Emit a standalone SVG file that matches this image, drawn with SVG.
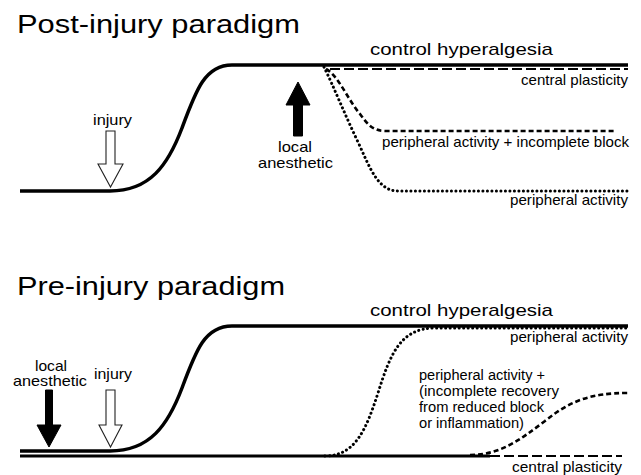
<svg xmlns="http://www.w3.org/2000/svg" width="641" height="475" viewBox="0 0 641 475">
<style>
text{font-family:"Liberation Sans",Arial,sans-serif;fill:#000}
.title{font-size:26px}
.big{font-size:17px}
.lbl{font-size:15px}
.ml{font-size:14px}
.arr{font-size:14.5px}
.solid{fill:none;stroke:#000;stroke-width:3.5}
.cp{fill:none;stroke:#000;stroke-width:2.2;stroke-dasharray:10 4}
.dash{fill:none;stroke:#000;stroke-width:2.6;stroke-dasharray:5 3}
.dot{fill:none;stroke:#000;stroke-width:3;stroke-dasharray:0.1 4.4;stroke-linecap:round}
.black{fill:#000;stroke:#000;stroke-width:1}
.white{fill:#fff;stroke:#222;stroke-width:1.1}
</style>
<rect width="641" height="475" fill="#fff"/>

<g id="post-injury">
  <text class="title" x="17" y="33" textLength="283" lengthAdjust="spacingAndGlyphs">Post-injury paradigm</text>
  <g id="post-connectors">
    <path id="post-control" class="solid" d="M20,191 H110 C150,191 168,165 182,128 C196,90 205,65 232,65 H628"/>
    <path id="post-central" class="cp" d="M330,69 H628"/>
    <path id="post-incomplete" class="dash" d="M326,69 C338,75 348,100 360,114 C368,125 373,131 386,131 H615"/>
    <path id="post-peripheral" class="dot" d="M324,67 C333,85 345,115 358,142 C370,168 378,191 398,191 H628"/>
  </g>
  <g id="post-injury-arrow">
    <polygon class="white" points="106,131 115,131 115,164 123,164 110.5,187 98,164 106,164"/>
    <text class="arr" x="93" y="125" textLength="39" lengthAdjust="spacingAndGlyphs">injury</text>
  </g>
  <g id="post-anesthetic-arrow">
    <polygon class="black" points="298,82 310,105 302.5,105 302.5,136 293.5,136 293.5,105 286,105"/>
    <text class="arr" x="278" y="152" textLength="34" lengthAdjust="spacingAndGlyphs">local</text>
    <text class="arr" x="258" y="168" textLength="75" lengthAdjust="spacingAndGlyphs">anesthetic</text>
  </g>
  <g id="post-labels">
    <text class="big" x="370" y="55" textLength="183" lengthAdjust="spacingAndGlyphs">control hyperalgesia</text>
    <text class="lbl" x="521" y="85" textLength="107" lengthAdjust="spacingAndGlyphs">central plasticity</text>
    <text class="lbl" x="382" y="147" textLength="247" lengthAdjust="spacingAndGlyphs">peripheral activity + incomplete block</text>
    <text class="lbl" x="510" y="205" textLength="118" lengthAdjust="spacingAndGlyphs">peripheral activity</text>
  </g>
</g>

<g id="pre-injury">
  <text class="title" x="17" y="295" textLength="268" lengthAdjust="spacingAndGlyphs">Pre-injury paradigm</text>
  <g id="pre-connectors">
    <path id="pre-control" class="solid" d="M20,451 H110 C150,451 168,425 182,388 C196,350 205,326 232,326 H628"/>
    <path id="pre-base" class="solid" style="stroke-width:3" d="M20,456 H490"/>
    <path id="pre-central" class="cp" d="M490,456 H622"/>
    <path id="pre-peripheral" class="dot" d="M325,456 C355,456 366,430 378,393 C390,355 400,328 435,328 H628"/>
    <path id="pre-incomplete" class="dash" d="M470,455 C500,455 520,440 545,421 C570,401 590,393 628,393"/>
  </g>
  <g id="pre-anesthetic-arrow">
    <polygon class="black" points="45.5,390 52.5,390 52.5,425 61,425 49,447 37,425 45.5,425"/>
    <text class="arr" x="35" y="371" textLength="32" lengthAdjust="spacingAndGlyphs">local</text>
    <text class="arr" x="13" y="386" textLength="74" lengthAdjust="spacingAndGlyphs">anesthetic</text>
  </g>
  <g id="pre-injury-arrow">
    <polygon class="white" points="106,390 115,390 115,425 122,425 110.5,447 99,425 106,425"/>
    <text class="arr" x="94" y="379" textLength="38" lengthAdjust="spacingAndGlyphs">injury</text>
  </g>
  <g id="pre-labels">
    <text class="big" x="370" y="316" textLength="183" lengthAdjust="spacingAndGlyphs">control hyperalgesia</text>
    <text class="lbl" x="510" y="342" textLength="118" lengthAdjust="spacingAndGlyphs">peripheral activity</text>
    <text class="ml" x="419" y="380" textLength="126" lengthAdjust="spacingAndGlyphs">peripheral activity +</text>
    <text class="ml" x="419" y="396" textLength="140" lengthAdjust="spacingAndGlyphs">(incomplete recovery</text>
    <text class="ml" x="419" y="412" textLength="125" lengthAdjust="spacingAndGlyphs">from reduced block</text>
    <text class="ml" x="419" y="428" textLength="105" lengthAdjust="spacingAndGlyphs">or inflammation)</text>
    <text class="lbl" x="512" y="472" textLength="110" lengthAdjust="spacingAndGlyphs">central plasticity</text>
  </g>
</g>
</svg>
